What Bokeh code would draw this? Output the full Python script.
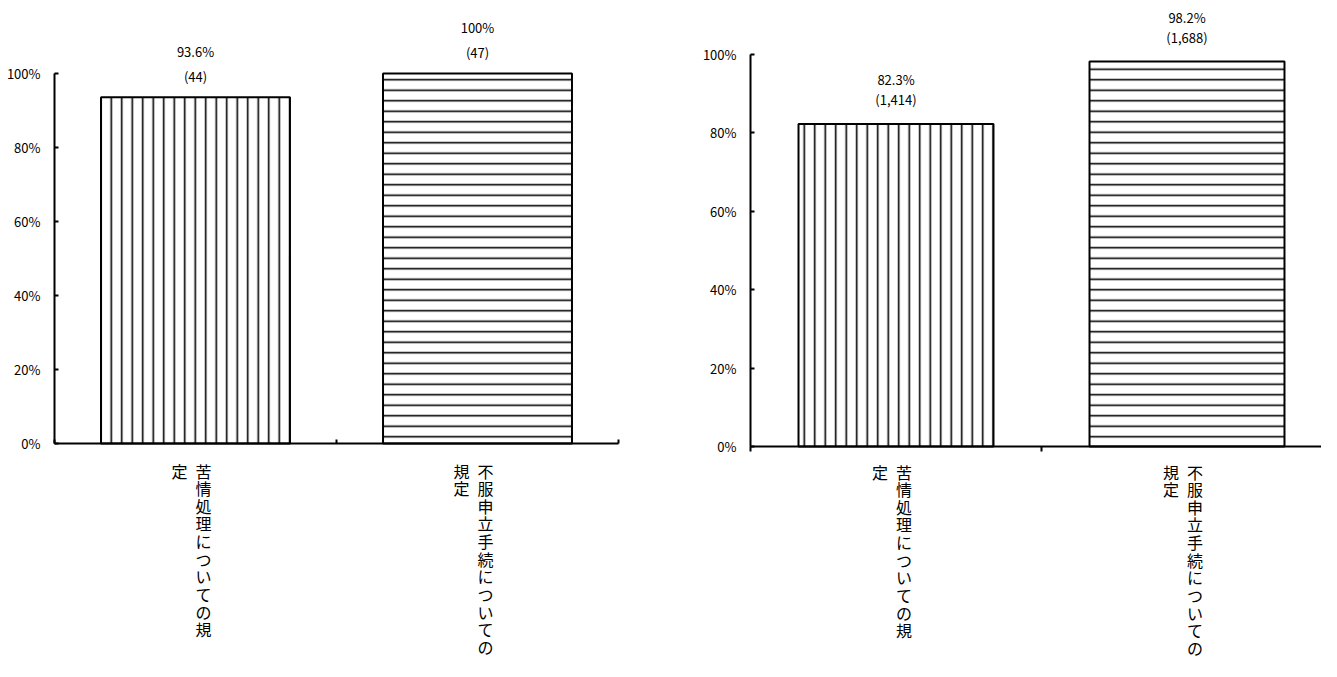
from bokeh.plotting import figure
from bokeh.models import (ColumnDataSource, LabelSet, Label, FixedTicker, LinearAxis,
                          Range1d)
from bokeh.core.properties import field, value
from bokeh.embed import file_html
from bokeh.resources import INLINE

# ---- data ----
categories = ["苦情処理についての規定", "不服申立手続についての規定"]
col_break = [10, 11]          # characters in the first (right) vertical column
left_pct = [93.6, 100.0]
left_n = [44, 47]
right_pct = [82.3, 98.2]
right_n = [1414, 1688]
y_ticks = [0, 20, 40, 60, 80, 100]
y_tick_labels = ["0%", "20%", "40%", "60%", "80%", "100%"]
hatches = ["|", "-"]

FONT = "Noto Sans CJK JP"

# ---- layout constants (canvas pixels) ----
W, H = 1321, 661
# each panel: (axis x px, axis end x px, 0% y px, 100% y px) from canvas top-left
PANELS = {
    "L": (54, 618, 443, 73),
    "R": (750, 1332, 446, 54),
}


def vertical_text(s, n):
    right = s[:n]
    left = s[n:]
    lines = []
    for i, ch in enumerate(right):
        lc = left[i] if i < len(left) else "\u3000"
        lines.append(lc + "\u2002" + ch)
    return "\n".join(lines)


def ranges(name):
    x0, x1, y0, y100 = PANELS[name]
    ncat = len(categories)
    ux = (x1 - x0) / ncat
    uy = (y0 - y100) / 100.0
    xr = Range1d(-x0 / ux, (W - x0) / ux)
    yr = Range1d(-(H - y0) / uy, y0 / uy)
    return xr, yr


xl, yl = ranges("L")
xr_, yr_ = ranges("R")

p = figure(width=W, height=H, x_range=xl, y_range=yl,
           x_axis_location=None, y_axis_location=None,
           output_backend="svg", toolbar_location=None, min_border=0)
p.extra_x_ranges = {"R": xr_}
p.extra_y_ranges = {"R": yr_}
p.title.visible = False
p.outline_line_color = None
p.grid.visible = False
p.background_fill_color = "white"


def draw_chart(pct, counts, xname, yname, xt_in, xt_out, pct_off, n_off, cat_xoff, cat_yoff):
    xs = [i + 0.5 for i in range(len(categories))]
    src = ColumnDataSource(dict(
        x=xs, top=pct, hatch=hatches,
        pct_text=[f"{v:g}%" for v in pct],
        n_text=[f"({n:,})" for n in counts],
    ))
    p.vbar(x="x", top="top", width=0.67, source=src, fill_color="white",
           line_color="black", line_width=2,
           hatch_pattern=field("hatch"), hatch_color="black",
           hatch_scale=10.5, hatch_weight=1.6,
           x_range_name=xname, y_range_name=yname)

    ya = LinearAxis(x_range_name=xname, y_range_name=yname, fixed_location=0,
                    bounds=(0, 100))
    ya.ticker = FixedTicker(ticks=y_ticks)
    ya.major_label_overrides = {t: l for t, l in zip(y_ticks, y_tick_labels)}
    ya.minor_tick_line_color = None
    ya.axis_line_width = 2
    ya.axis_line_color = "black"
    ya.major_tick_line_width = 2
    ya.major_tick_in = 4
    ya.major_tick_out = 0
    ya.major_label_standoff = 14
    ya.major_label_text_font = FONT
    ya.major_label_text_font_size = "13px"
    ya.major_label_text_color = "black"
    p.add_layout(ya, "left")

    nc = len(categories)
    xa = LinearAxis(x_range_name=xname, y_range_name=yname, fixed_location=0,
                    bounds=(0, nc))
    xa.ticker = FixedTicker(ticks=list(range(nc + 1)))
    xa.major_label_overrides = {t: "" for t in range(nc + 1)}
    xa.major_label_text_color = None
    xa.minor_tick_line_color = None
    xa.axis_line_width = 2
    xa.axis_line_color = "black"
    xa.major_tick_line_width = 2
    xa.major_tick_in = xt_in
    xa.major_tick_out = xt_out
    p.add_layout(xa, "below")

    for col, off in (("pct_text", pct_off), ("n_text", n_off)):
        p.add_layout(LabelSet(x="x", y="top", text=col, source=src, y_offset=off,
                              x_range_name=xname, y_range_name=yname,
                              text_align="center", text_baseline="middle",
                              text_font=value(FONT), text_font_size=value("13px"),
                              text_color="black"))

    for x, cat, n in zip(xs, categories, col_break):
        p.add_layout(Label(x=x, y=0, x_offset=cat_xoff, y_offset=cat_yoff,
                           x_range_name=xname, y_range_name=yname,
                           text=vertical_text(cat, n), text_align="center",
                           text_baseline="top", text_font=FONT,
                           text_font_size="16px", text_line_height=0.735,
                           text_color="black"))


draw_chart(left_pct, left_n, "default", "default", 4, 0, 46, 21, -4, -15)
draw_chart(right_pct, right_n, "R", "R", 0, 5, 44, 24, -4, -13)

open("out.html", "w").write(file_html(p, INLINE))
